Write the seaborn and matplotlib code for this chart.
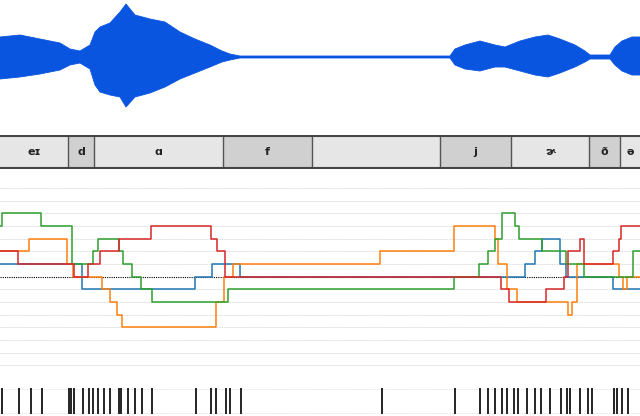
import numpy as np
import pandas as pd
import matplotlib
matplotlib.use("Agg")
import matplotlib.pyplot as plt
import seaborn as sns

# waveform envelope (x in px, amplitude in px)
wave_x = [0, 20, 40, 60, 70, 80, 90, 95, 100, 110, 120, 126, 135, 150, 165, 180, 195, 210, 222, 230, 240, 450, 455, 465, 480, 495, 505, 520, 535, 548, 560, 575, 585, 590, 610, 615, 622, 632, 640]
wave_up = [20, 22, 18, 14, 8, 6, 12, 25, 30, 34, 45, 53, 42, 38, 35, 25, 18, 12, 6, 3, 1, 1, 8, 12, 16, 12, 10, 16, 20, 22, 18, 12, 6, 2, 2, 10, 16, 20, 20]
wave_dn = [22, 20, 17, 13, 8, 6, 12, 28, 35, 38, 40, 50, 40, 36, 30, 22, 16, 10, 5, 3, 1, 1, 8, 12, 14, 10, 10, 14, 18, 20, 16, 10, 5, 2, 2, 8, 14, 18, 18]

# phoneme segments
ph_labels = ["eɪ", "d", "ɑ", "f", "", "j", "ɚ", "ð", "ə"]
ph_bounds = [0, 68, 94.4, 222.7, 311.8, 440, 511, 588.5, 620, 640]

# step series: (breakpoint x, level)
blue_x = [0, 81.7, 195, 212, 240, 525, 535, 541.5, 560, 566, 613, 640]
blue_y = [1, -1, 0, 1, 0, 1, 2, 3, 1, 0, -1, -1]
orange_x = [0, 28.6, 67.4, 72.7, 102, 109.5, 116.5, 122, 216, 224, 233, 380, 453.6, 494.5, 498, 506.7, 517, 560, 568, 572, 577, 619, 623, 627, 640]
orange_y = [2, 3, 1, 0, -1, -2, -3, -4, -2, 0, 1, 2, 4, 3, 1, -1, -2, -2, -3, -2, 1, 0, -1, 0, 0]
green_x = [0, 2, 41, 72, 93, 98, 118.5, 122.6, 131.6, 141, 152, 228, 453.6, 479, 488, 495, 502, 515, 519, 541.5, 566, 584, 633.4, 640]
green_y = [4, 5, 4, 1, 2, 3, 2, 1, 0, -1, -2, -1, 0, 1, 2, 3, 5, 4, 3, 2, 1, 0, 2, 2]
red_x = [0, 18.4, 73.6, 88, 100, 118.5, 151, 210.5, 216.6, 225, 500.6, 509, 545.6, 564, 568, 580, 584, 613, 619, 621, 640]
red_y = [2, 1, 0, 1, 2, 3, 4, 3, 2, 0, -1, -2, -1, 0, 2, 3, 1, 2, 3, 4, 4]

events = [2, 19, 31, 42, 69, 71, 74, 83, 89, 93, 98, 104, 110, 119, 121, 128, 135, 142, 152, 196, 211, 216, 226, 230, 241, 382, 455, 480, 488, 495, 502, 507, 514, 518, 527, 535, 541, 550, 561, 567, 570, 580, 588, 592, 614, 617, 622, 628]

sns.set_style("white")
fig = plt.figure(figsize=(6.4, 4.16), dpi=100)
W, H = 640, 416
def ax_at(y0, y1):
    a = fig.add_axes([0, 1 - y1 / H, 1, (y1 - y0) / H])
    a.set_xlim(0, 640)
    a.axis("off")
    return a

# waveform
aw = ax_at(0, 130)
aw.set_ylim(-73, 57)
aw.fill_between(wave_x, wave_up, [-v for v in wave_dn], color="#0a55e0", linewidth=0.6, edgecolor="#0a55e0")

# phoneme bar
ap = ax_at(135, 169)
ap.set_ylim(0, 1)
for i, lab in enumerate(ph_labels):
    c = "#e6e6e6" if i % 2 == 0 else "#d0d0d0"
    ap.axvspan(ph_bounds[i], ph_bounds[i + 1], color=c, lw=0)
    if i > 0:
        ap.axvline(ph_bounds[i], color="#555555", lw=1)
    ap.text((ph_bounds[i] + ph_bounds[i + 1]) / 2, 0.5, lab, ha="center", va="center", fontsize=8, fontweight="bold", color="#222222")
ap.axhline(0.98, color="#444444", lw=1.5)
ap.axhline(0.02, color="#444444", lw=1.5)

# step lines
al = ax_at(178, 372)
al.set_ylim(-7.52, 7.79)
for k in range(-7, 8):
    if k == 0:
        al.axhline(0, color="black", lw=0.8, ls=(0, (1, 1)))
    else:
        al.axhline(k, color="#cccccc", lw=0.6, ls=(0, (1, 1)))
cols = ["#1f77b4", "#ff7f0e", "#2ca02c", "#d62728"]
for (xs, ys), c in zip([(blue_x, blue_y), (orange_x, orange_y), (green_x, green_y), (red_x, red_y)], cols):
    df = pd.DataFrame({"x": xs, "y": ys})
    sns.lineplot(data=df, x="x", y="y", ax=al, color=c, lw=1.1, drawstyle="steps-post", estimator=None, sort=False)
al.axis("off")
al.set_xlim(0, 640)
al.set_ylim(-7.52, 7.79)

# events
ae = ax_at(388, 414)
ae.set_ylim(0, 1)
ae.axhline(0.98, color="#dddddd", lw=0.6, ls=(0, (1, 1)))
ae.axhline(0.02, color="#dddddd", lw=0.6, ls=(0, (1, 1)))
ae.vlines(events, 0, 1, color="black", lw=1.2)

fig.savefig("out.png", dpi=100)
